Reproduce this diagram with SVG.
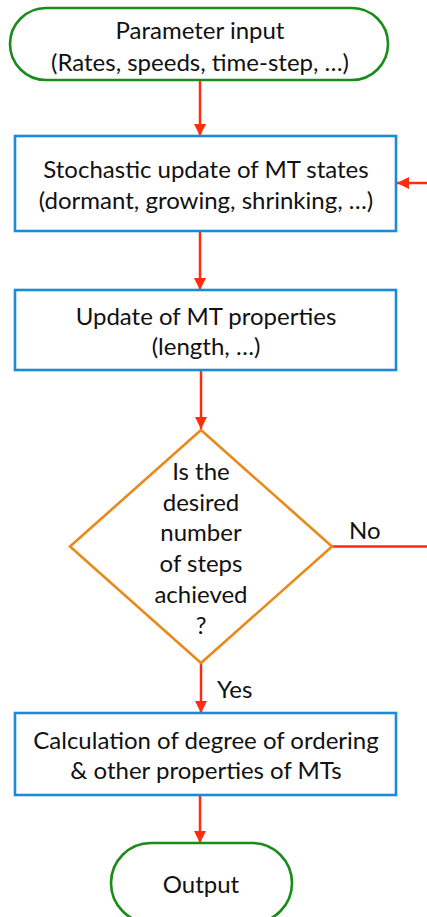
<svg xmlns="http://www.w3.org/2000/svg" width="427" height="917" viewBox="0 0 427 917">
<style>
text{font-family:Lato,"Open Sans",sans-serif;font-size:24px;fill:#111;text-anchor:middle}
.term{fill:#fff;stroke:#1a8c1a;stroke-width:2.6}
.proc{fill:#fff;stroke:#1b8bd6;stroke-width:2.6}
.dec{fill:#fff;stroke:#e8891a;stroke-width:2.6}
.con{fill:none;stroke:#ff2d0d;stroke-width:2.5}
.lbl{text-anchor:start}
</style>
<defs>
<marker id="ah" viewBox="0 0 12 12" refX="12" refY="6" markerWidth="12" markerHeight="12" markerUnits="userSpaceOnUse" orient="auto">
<path d="M0,0 L12,6 L0,12 Z" fill="#ff2d0d"/>
</marker>
</defs>
<rect width="427" height="917" fill="#fff"/>
<g id="connectors">
<line class="con" x1="200" y1="80" x2="200" y2="136" marker-end="url(#ah)"/>
<line class="con" x1="200" y1="231" x2="200" y2="290" marker-end="url(#ah)"/>
<line class="con" x1="201" y1="370" x2="201" y2="429" marker-end="url(#ah)"/>
<line class="con" x1="201" y1="663" x2="201" y2="713" marker-end="url(#ah)"/>
<line class="con" x1="200" y1="795" x2="200" y2="843" marker-end="url(#ah)"/>
<path class="con" d="M332,546.5 H432 V183 H397" marker-end="url(#ah)"/>
<text class="lbl" x="349" y="539">No</text>
<text class="lbl" x="217" y="698">Yes</text>
</g>
<g id="start">
<rect class="term" x="10" y="8" width="378" height="72" rx="36" ry="36"/>
<text x="200" y="39">Parameter input</text>
<text x="200" y="71">(Rates, speeds, time-step, …)</text>
</g>
<g id="stochastic">
<rect class="proc" x="15" y="136" width="381" height="95"/>
<text x="206" y="178">Stochastic update of MT states</text>
<text x="206" y="209">(dormant, growing, shrinking, …)</text>
</g>
<g id="update">
<rect class="proc" x="15" y="290" width="381" height="80"/>
<text x="206" y="325">Update of MT properties</text>
<text x="206" y="355">(length, …)</text>
</g>
<g id="decision">
<polygon class="dec" points="201,430 332,546.5 201,663 70,546.5"/>
<text x="201" y="480">Is the</text>
<text x="201" y="511">desired</text>
<text x="201" y="541">number</text>
<text x="201" y="572">of steps</text>
<text x="201" y="603">achieved</text>
<text x="201" y="634">?</text>
</g>
<g id="calculation">
<rect class="proc" x="15" y="713" width="381" height="82"/>
<text x="206" y="749">Calculation of degree of ordering</text>
<text x="206" y="779">&amp; other properties of MTs</text>
</g>
<g id="output">
<rect class="term" x="111" y="843" width="181" height="80" rx="40" ry="40"/>
<text x="201" y="893">Output</text>
</g>
</svg>
